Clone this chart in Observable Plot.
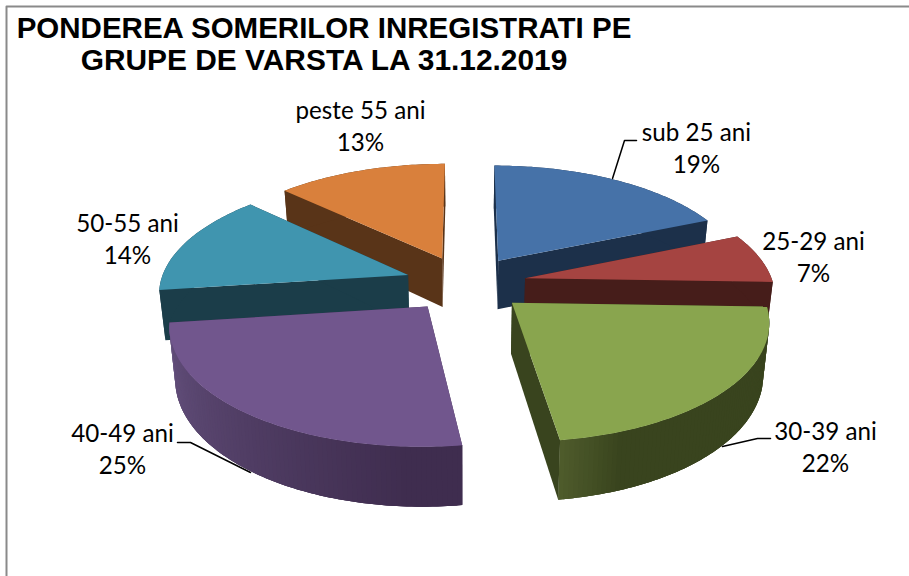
<!DOCTYPE html>
<html><head><meta charset="utf-8">
<script src="https://cdn.jsdelivr.net/npm/d3@7"></script>
<script src="https://cdn.jsdelivr.net/npm/@observablehq/plot@0.6"></script>
<style>html,body{margin:0;padding:0;background:#fff}svg{display:block}</style>
</head><body><div id="c"></div>
<script>
const categories = ["sub 25 ani","25-29 ani","30-39 ani","40-49 ani","50-55 ani","peste 55 ani"];
const values = [18.6,6.9,22.3,25.1,14.2,12.9];
const titleLines = ["PONDEREA SOMERILOR INREGISTRATI PE","GRUPE DE VARSTA LA 31.12.2019"];

// styling
const topColors  = ["#4672a8","#a54441","#89a54e","#71568d","#4095af","#d9803c"];
const wallColors = ["#1c304a","#461d1a","#39441e","#3f2d4f","#1b3d49","#593418"];
const wallLight  = ["#1c304a","#461d1a","#4e5b2b","#66527f","#1b3d49","#593418"];
const drawOrder = [5,0,4,1,3,2];
const labelAt = [[696,146],[813,255],[825,445],[122,447],[127,237],[360,124]];
const leaders = [
  [[612,178],[624,140],[636,140]],
  [[722,446],[757,438],[770,438]],
  [[250,472],[190,442],[177,442]]
];

// perspective projection of the exploded pie
const cx=465, cy=283, R=248, ex=61, f=1800, tilt=0.46, depth=50, bottomScale=0.98, startAngle=0;
const rad = d => d*Math.PI/180;
function proj(X,Z,bottom){
  const s=f/(f+Z);
  const b=bottom?bottomScale:1;
  return [cx+X*s*b, cy-tilt*Z*s+(bottom?depth*s:0)];
}
const total=d3.sum(values);
let acc=0;
const slices=values.map((v,i)=>{
  const a0=startAngle+acc/total*360; acc+=v; const a1=startAngle+acc/total*360;
  const m=rad((a0+a1)/2);
  return {i,a0,a1,ox:ex*Math.sin(m),oz:ex*Math.cos(m)};
});
const pt=(s,a,r,bottom)=>proj(s.ox+r*Math.sin(rad(a)),s.oz+r*Math.cos(rad(a)),bottom);
const angles=(s,step=1)=>{const n=Math.ceil((s.a1-s.a0)/step);return d3.range(n+1).map(k=>s.a0+(s.a1-s.a0)*k/n);};

const poly=(pts,fill)=>Plot.line(pts,{x:d=>d[0],y:d=>d[1],fill,stroke:"none",curve:"linear-closed"});
const marks=[];
// chart frame
marks.push(Plot.line([[6,576],[6,6],[909,6]],{x:d=>d[0],y:d=>d[1],stroke:"#8a8a8a",strokeWidth:2}));

for(const i of drawOrder){
  const s=slices[i];
  const as=angles(s);
  // radial walls
  for(const a of [s.a0,s.a1]){
    marks.push(poly([pt(s,0,0),pt(s,a,R),pt(s,a,R,true),pt(s,0,0,true)],wallColors[i]));
  }
  // outer wall
  marks.push(poly([...as.map(a=>pt(s,a,R)),...as.slice().reverse().map(a=>pt(s,a,R,true))],wallColors[i]));
  // shaded strips where the wall has a visible gradient, each overlapping the next
  if(i===2||i===3){
    const shade=d3.interpolateRgb(wallLight[i],wallColors[i]);
    const list=i===3?as:as.slice().reverse();
    for(let k=0;k<list.length-2;k+=1){
      const seg=[list[k],list[k+1],list[k+2]];
      const t=i===3?Math.min(1,Math.max(0,(s.a1-seg[0])/80)):Math.min(1,(s.a1-seg[0])/12);
      marks.push(poly([...seg.map(a=>pt(s,a,R)),...seg.slice().reverse().map(a=>pt(s,a,R,true))],shade(t)));
    }
  }
  // top face
  marks.push(poly([pt(s,0,0),...as.map(a=>pt(s,a,R))],topColors[i]));
}
// leaders
for(const l of leaders){
  marks.push(Plot.line(l,{x:d=>d[0],y:d=>d[1],stroke:"#000",strokeWidth:1.5}));
}
// labels
marks.push(Plot.text(categories.map((c,i)=>({t:c+"\n"+Math.round(values[i])+"%",p:labelAt[i]})),{
  x:d=>d.p[0],y:d=>d.p[1],text:"t",fontFamily:"Lato",fontSize:24.2,lineHeight:1.34,fill:"#000",textAnchor:"middle",lineAnchor:"middle"}));
// title
marks.push(Plot.text([titleLines[0]],{x:[323.5],y:[28],fontFamily:"Liberation Sans",fontWeight:"bold",fontSize:29.5,fill:"#000",lineAnchor:"middle"}));
marks.push(Plot.text([titleLines[1]],{x:[323.5],y:[60],fontFamily:"Liberation Sans",fontWeight:"bold",fontSize:29.9,fill:"#000",lineAnchor:"middle"}));

const plot=Plot.plot({
  width:909,height:576,margin:0,
  x:{domain:[0,909],range:[0,909],axis:null},
  y:{domain:[0,576],range:[0,576],axis:null},
  marks
});
document.getElementById("c").appendChild(plot);
</script></body></html>
